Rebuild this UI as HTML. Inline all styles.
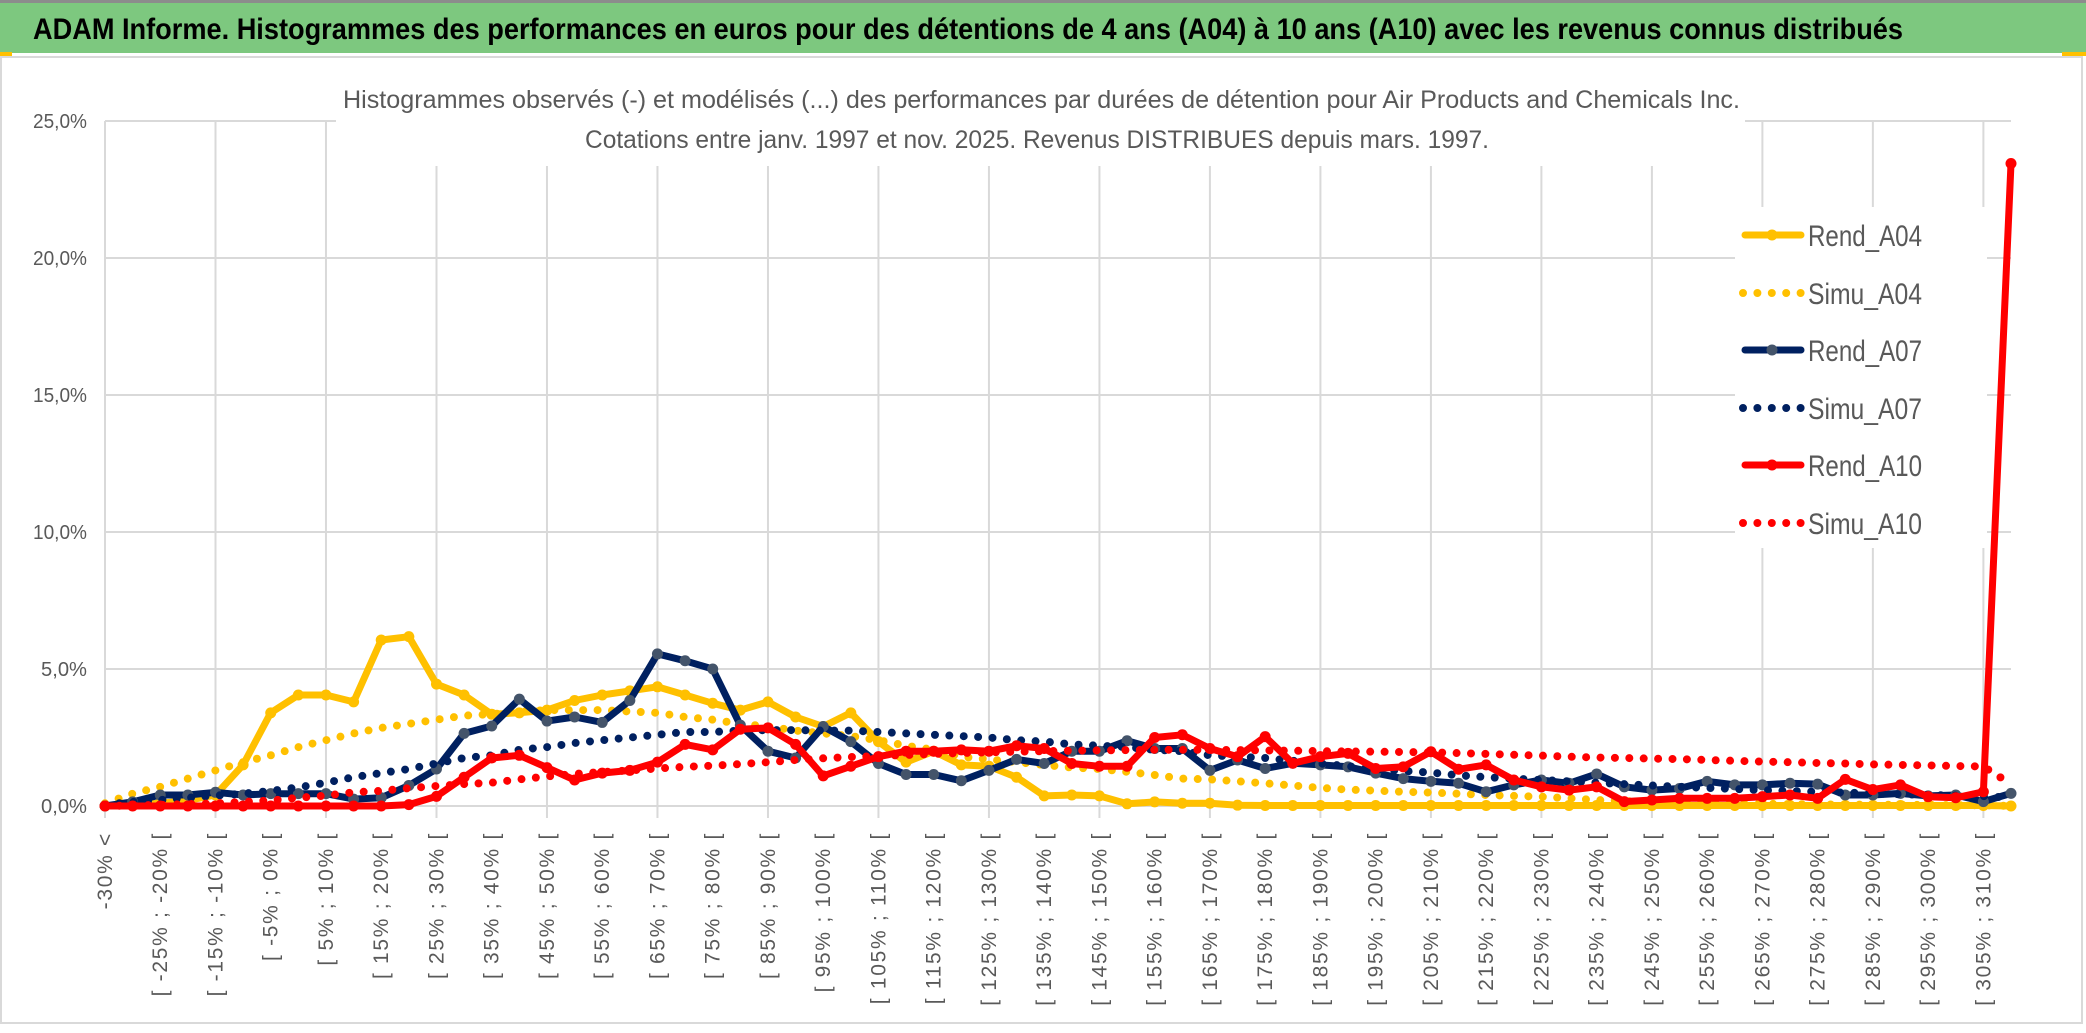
<!DOCTYPE html>
<html><head><meta charset="utf-8"><style>
html,body{margin:0;padding:0;background:#fff;}
svg{display:block;}
</style></head><body>
<svg id="chart" width="2086" height="1033" viewBox="0 0 2086 1033" xmlns="http://www.w3.org/2000/svg">
<rect x="0" y="0" width="2086" height="1033" fill="#fff"/>
<rect x="0" y="0" width="2086" height="3" fill="#8c8c8c"/>
<rect x="0" y="3" width="2086" height="50" fill="#7dc87f"/>
<rect x="0" y="52" width="12" height="4" fill="#ffc000"/>
<rect x="2062" y="52" width="24" height="4" fill="#ffc000"/>
<rect x="1" y="57" width="2081" height="966" fill="#fff" stroke="#d9d9d9" stroke-width="2"/>
<text x="33" y="39" font-family="Liberation Sans, sans-serif" font-weight="bold" font-size="30" fill="#000" textLength="1870" lengthAdjust="spacingAndGlyphs">ADAM Informe. Histogrammes des performances en euros pour des détentions de 4 ans (A04) à 10 ans (A10) avec les revenus connus distribués</text>
<g id="grid"></g>
<rect x="336" y="62" width="1409" height="104" fill="#fff"/>
<text x="343" y="108" font-family="Liberation Sans, sans-serif" font-size="25" fill="#595959" textLength="1397" lengthAdjust="spacingAndGlyphs">Histogrammes observés (-) et modélisés (...) des performances par durées de détention pour Air Products and Chemicals Inc.</text>
<text x="585" y="148" font-family="Liberation Sans, sans-serif" font-size="25" fill="#595959" textLength="904" lengthAdjust="spacingAndGlyphs">Cotations entre janv. 1997 et nov. 2025. Revenus DISTRIBUES depuis mars. 1997.</text>
<g id="yaxis"></g>
<g id="xaxis"></g>
<g id="series"></g>
<g id="legend"></g>
</svg>
<script>
var categories = [];
categories.push('-30% <');
for (var k = 1; k < 70; k++) { categories.push('[ ' + (-35 + 5 * k) + '% ; ' + (-30 + 5 * k) + '% ['); }
var yTicks = [0, 5, 10, 15, 20, 25];
var yTickLabels = ['0,0%', '5,0%', '10,0%', '15,0%', '20,0%', '25,0%'];
var seriesNames = ['Rend_A04', 'Simu_A04', 'Rend_A07', 'Simu_A07', 'Rend_A10', 'Simu_A10'];
var rendA04 = [0,0.05,0.1,0.2,0.4,1.5,3.4,4.05,4.05,3.8, 6.06,6.18,4.45,4.05,3.35,3.4,3.5,3.85,4.05,4.2, 4.35,4.05,3.75,3.5,3.8,3.25,2.9,3.4,2.35,1.6, 2.0,1.5,1.45,1.05,0.37,0.4,0.37,0.08,0.15,0.1, 0.1,0.03,0.02,0.02,0.02,0.02,0.02,0.02,0.02,0.02, 0.02,0.02,0.02,0.02,0.02,0.02,0.02,0.02,0.02,0.02, 0.02,0.02,0.02,0.02,0.02,0.02,0.02,0.02,0.02,0];
var simuA04 = [0.1,0.45,0.7,1.0,1.3,1.6,1.85,2.15,2.4,2.65, 2.85,3.0,3.15,3.3,3.35,3.45,3.5,3.5,3.5,3.45, 3.4,3.25,3.15,3.0,2.9,2.75,2.65,2.55,2.4,2.2, 2.05,1.8,1.7,1.6,1.5,1.4,1.35,1.25,1.13,1.0, 0.97,0.9,0.83,0.75,0.66,0.6,0.56,0.52,0.49,0.45, 0.4,0.37,0.34,0.28,0.22,0.18,0.15,0.12,0.1,0.09, 0.08,0.07,0.06,0.05,0.05,0.04,0.04,0.03,0.03,0.0];
var rendA07 = [0,0.15,0.4,0.4,0.5,0.4,0.45,0.45,0.45,0.25, 0.3,0.75,1.35,2.65,2.92,3.9,3.1,3.25,3.05,3.85, 5.55,5.3,5.0,2.95,2.0,1.75,2.9,2.35,1.55,1.15, 1.15,0.92,1.3,1.7,1.55,2.0,2.0,2.38,2.1,2.1, 1.3,1.68,1.37,1.56,1.5,1.43,1.2,1.0,0.9,0.83, 0.52,0.77,0.95,0.83,1.17,0.7,0.58,0.64,0.9,0.77, 0.77,0.83,0.8,0.4,0.4,0.46,0.37,0.4,0.16,0.46];
var simuA07 = [0.05,0.15,0.22,0.3,0.38,0.45,0.55,0.68,0.85,1.05, 1.2,1.35,1.55,1.75,1.85,2.05,2.15,2.3,2.4,2.5, 2.6,2.7,2.7,2.75,2.77,2.77,2.75,2.75,2.7,2.65, 2.6,2.55,2.5,2.4,2.35,2.25,2.2,2.15,2.05,2.0, 1.85,1.8,1.75,1.65,1.55,1.45,1.35,1.28,1.22,1.12, 1.05,1.0,0.95,0.9,0.85,0.8,0.75,0.7,0.66,0.62, 0.58,0.55,0.52,0.49,0.46,0.43,0.4,0.38,0.36,0.3];
var rendA10 = [0,0,0,0,0,0,0,0,0,0, 0,0.05,0.35,1.05,1.75,1.85,1.4,0.95,1.2,1.3, 1.6,2.25,2.05,2.8,2.85,2.25,1.1,1.45,1.8,2.0, 2.0,2.05,2.0,2.2,2.1,1.55,1.45,1.45,2.5,2.6, 2.1,1.8,2.53,1.56,1.8,1.92,1.37,1.43,1.98,1.34, 1.5,0.95,0.7,0.58,0.7,0.16,0.22,0.28,0.28,0.28, 0.34,0.4,0.28,0.97,0.6,0.77,0.34,0.3,0.52,23.45];
var simuA10 = [0,0.02,0.04,0.07,0.1,0.15,0.2,0.3,0.38,0.5, 0.55,0.65,0.73,0.8,0.85,0.97,1.08,1.17,1.24,1.3, 1.37,1.43,1.47,1.53,1.6,1.68,1.74,1.79,1.82,1.86, 1.9,1.93,1.96,1.98,2.0,2.02,2.03,2.04,2.05,2.05, 2.05,2.04,2.03,2.02,2.0,1.99,1.98,1.97,1.96,1.93, 1.9,1.87,1.84,1.8,1.77,1.75,1.73,1.71,1.68,1.65, 1.62,1.6,1.57,1.55,1.52,1.5,1.48,1.46,1.44,0.8];

var NS = 'http://www.w3.org/2000/svg';
var X0 = 105, X1 = 2011, Y0 = 806, YTOP = 121, YMAX = 25;
function xPos(i) { return X0 + (X1 - X0) * i / (categories.length - 1); }
function yPos(v) { return Y0 - (Y0 - YTOP) * v / YMAX; }
function mk(tag, attrs, parent) {
  var e = document.createElementNS(NS, tag);
  for (var a in attrs) e.setAttribute(a, attrs[a]);
  parent.appendChild(e);
  return e;
}
var grid = document.getElementById('grid');
yTicks.forEach(function (t) {
  var l = mk('line', {x1: X0, x2: X1, y1: yPos(t), y2: yPos(t), stroke: '#d9d9d9', 'stroke-width': 2}, grid);
  
  
});
for (var i = 0; i < categories.length; i += 4) {
  var l = mk('line', {x1: xPos(i), x2: xPos(i), y1: YTOP, y2: Y0 + 12, stroke: '#d9d9d9', 'stroke-width': 2}, grid);
  
  
}
var yaxis = document.getElementById('yaxis');
yTicks.forEach(function (t, j) {
  var tx = mk('text', {x: 87, y: yPos(t) + 7, 'text-anchor': 'end', 'font-family': 'Liberation Sans, sans-serif', 'font-size': 20, fill: '#595959', textLength: yTickLabels[j].length > 4 ? 54 : 46, lengthAdjust: 'spacingAndGlyphs'}, yaxis);
  tx.textContent = yTickLabels[j];
  
  
});
var xaxis = document.getElementById('xaxis');
for (var i = 0; i < categories.length; i += 2) {
  var x = xPos(i) + 7, y = 832;
  var tx = mk('text', {x: x, y: y, 'text-anchor': 'end', transform: 'rotate(-90 ' + x + ' ' + y + ')', 'font-family': 'Liberation Sans, sans-serif', 'font-size': 21, 'letter-spacing': 1.7, fill: '#595959'}, xaxis);
  tx.textContent = categories[i];
  
  
}
var series = document.getElementById('series');
function pts(arr) { return arr.map(function (v, i) { return xPos(i).toFixed(1) + ',' + yPos(v).toFixed(1); }).join(' '); }
function solid(arr, color, mcolor, name) {
  var g = mk('g', {}, series);
  
  
  mk('polyline', {points: pts(arr), fill: 'none', stroke: color, 'stroke-width': 7, 'stroke-linejoin': 'round', 'stroke-linecap': 'round'}, g);
  arr.forEach(function (v, i) {
    var c = mk('circle', {cx: xPos(i), cy: yPos(v), r: 5.5, fill: mcolor}, g);
    
    
  });
}
function dotted(arr, color, name) {
  var p = mk('polyline', {points: pts(arr), fill: 'none', stroke: color, 'stroke-width': 8, 'stroke-dasharray': '0 14.4', 'stroke-linecap': 'round', 'stroke-linejoin': 'round'}, series);
  
  
}
solid(rendA04, '#ffc000', '#ffc000', 'rend-a04-line');
dotted(simuA04, '#ffc000', 'simu-a04-line');
solid(rendA07, '#002060', '#44546a', 'rend-a07-line');
dotted(simuA07, '#002060', 'simu-a07-line');
solid(rendA10, '#ff0000', '#ff0000', 'rend-a10-line');
dotted(simuA10, '#ff0000', 'simu-a10-line');

var legend = document.getElementById('legend');
var lb = mk('rect', {x: 1735, y: 207, width: 252, height: 341, fill: '#fff'}, legend);


var legColors = ['#ffc000', '#ffc000', '#002060', '#002060', '#ff0000', '#ff0000'];
var legMarkers = ['#ffc000', null, '#44546a', null, '#ff0000', null];
var legY = [235, 293, 350, 408, 465, 523];
seriesNames.forEach(function (n, j) {
  var g = mk('g', {}, legend);
  
  
  var y = legY[j];
  if (legMarkers[j]) {
    mk('line', {x1: 1745, x2: 1801, y1: y, y2: y, stroke: legColors[j], 'stroke-width': 7, 'stroke-linecap': 'round'}, g);
    mk('circle', {cx: 1772, cy: y, r: 5.5, fill: legMarkers[j]}, g);
  } else {
    mk('line', {x1: 1743, x2: 1803, y1: y, y2: y, stroke: legColors[j], 'stroke-width': 8, 'stroke-dasharray': '0 14.4', 'stroke-linecap': 'round'}, g);
  }
  var t = mk('text', {x: 1808, y: y + 11, 'font-family': 'Liberation Sans, sans-serif', 'font-size': 30, fill: '#595959', textLength: 114, lengthAdjust: 'spacingAndGlyphs'}, g);
  t.textContent = n;
});
</script>
</body></html>
